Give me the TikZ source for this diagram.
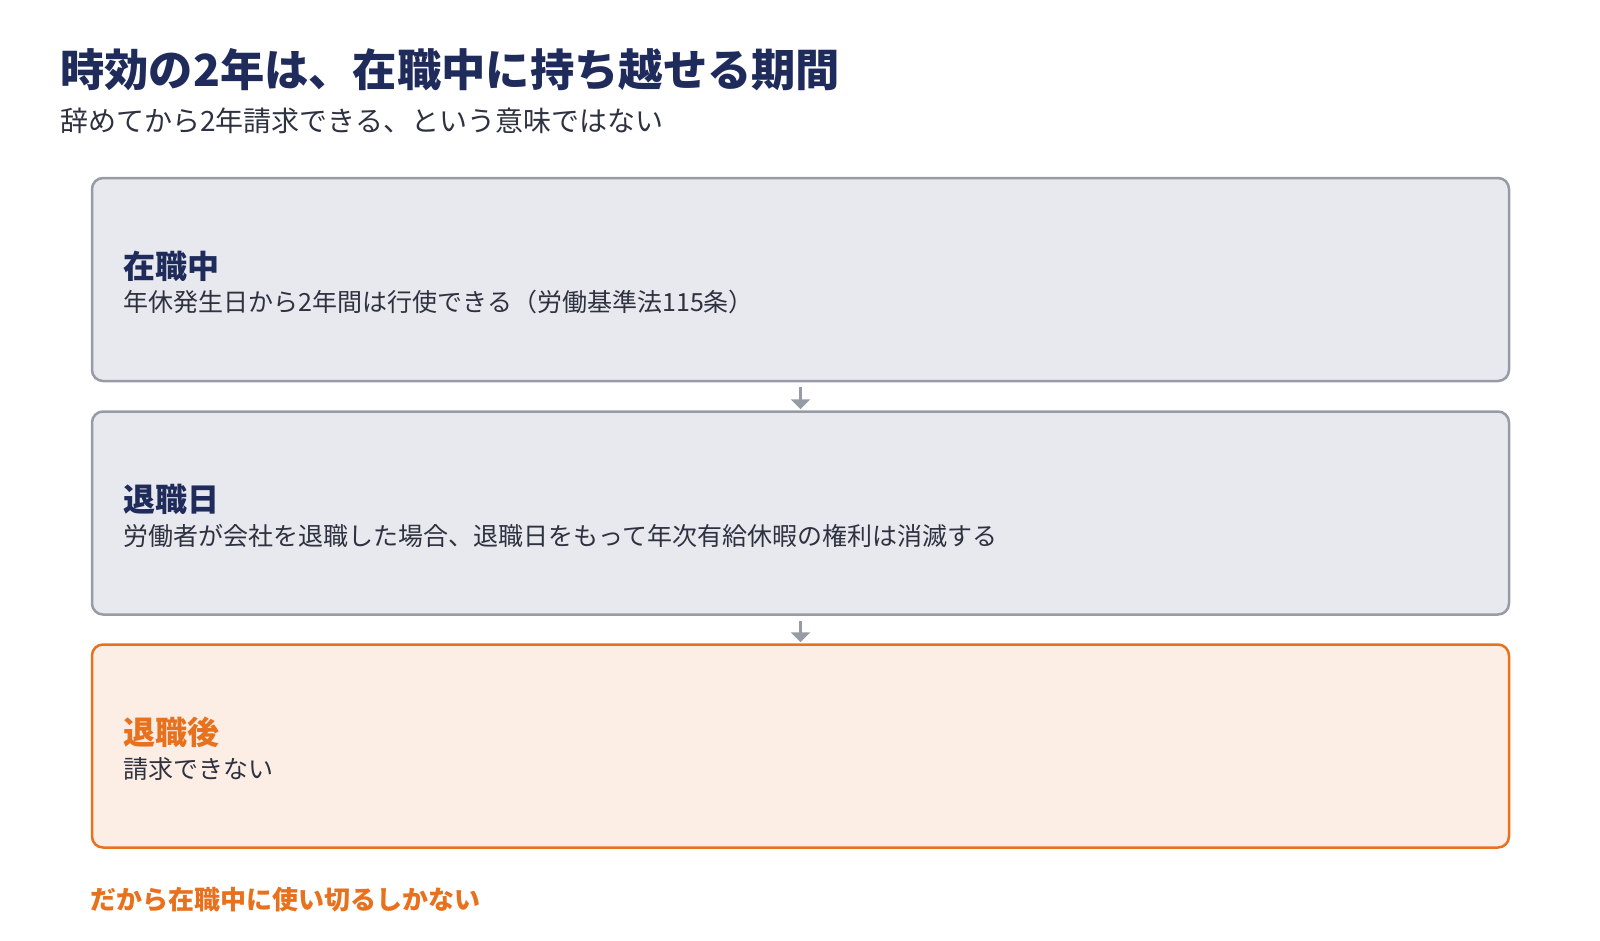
\documentclass[tikz,border=0pt]{standalone}
\usepackage{fontspec}
\setmainfont{Noto Sans CJK JP}
\usepackage{xcolor}
\usetikzlibrary{arrows.meta,positioning,calc}

\definecolor{navy}{HTML}{1F2B5B}
\definecolor{bodytext}{HTML}{2E3240}
\definecolor{stepgray}{HTML}{979BA6}
\definecolor{stepfill}{HTML}{E8E9EE}
\definecolor{warnorange}{HTML}{E8711E}
\definecolor{warnfill}{HTML}{FCEDE5}

\begin{document}
\begin{tikzpicture}[x=1pt,y=-1pt]
  \tikzstyle{stage}=[rectangle, rounded corners=11pt, draw=stepgray, fill=stepfill, line width=2.5pt, minimum width=1417pt, minimum height=203pt, inner sep=0pt]
  \tikzstyle{lastStage}=[stage, draw=warnorange, fill=warnfill]
  \tikzstyle{stageHead}=[anchor=base west, inner sep=0pt, font=\fontsize{32}{36}\selectfont\bfseries, text=navy]
  \tikzstyle{stageBody}=[anchor=base west, inner sep=0pt, font=\fontsize{25}{29}\selectfont, text=bodytext]
  \tikzstyle{flow}=[-{Triangle[width=19pt,length=10pt]}, draw=stepgray, line width=3.5pt, shorten <=5pt, shorten >=1pt]

  \useasboundingbox (0,0) rectangle (1600,940);

  % Titel
  \node[anchor=base west, inner sep=0pt, font=\fontsize{44.3}{50}\selectfont\bfseries, text=navy] (title) at (60,86) {時効の2年は、在職中に持ち越せる期間};
  \node[anchor=base west, inner sep=0pt, font=\fontsize{28}{33}\selectfont, text=bodytext] (subtitle) at (60,131) {辞めてから2年請求できる、という意味ではない};

  % Stufen
  \node[stage] (during) at (800.5,279.5) {};
  \node[stage] (retire) at (800.5,513) {};
  \node[lastStage] (after) at (800.5,746) {};

  \node[stageHead] (duringHead) at ([xshift=33pt,yshift=1.5pt]during.west) {在職中};
  \node[stageBody] (duringBody) at ([xshift=33pt,yshift=-32pt]during.west) {年休発生日から2年間は行使できる（労働基準法115条）};
  \node[stageHead] (retireHead) at ([xshift=33pt,yshift=1.5pt]retire.west) {退職日};
  \node[stageBody] (retireBody) at ([xshift=33pt,yshift=-32pt]retire.west) {労働者が会社を退職した場合、退職日をもって年次有給休暇の権利は消滅する};
  \node[stageHead, text=warnorange] (afterHead) at ([xshift=33pt,yshift=1.5pt]after.west) {退職後};
  \node[stageBody] (afterBody) at ([xshift=33pt,yshift=-32pt]after.west) {請求できない};

  \draw[flow] (during.south) -- (retire.north);
  \draw[flow] (retire.south) -- (after.north);

  % Fazit
  \node[anchor=base west, inner sep=0pt, font=\fontsize{26}{30}\selectfont\bfseries, text=warnorange] (conclusion) at (90,909) {だから在職中に使い切るしかない};
\end{tikzpicture}
\end{document}
